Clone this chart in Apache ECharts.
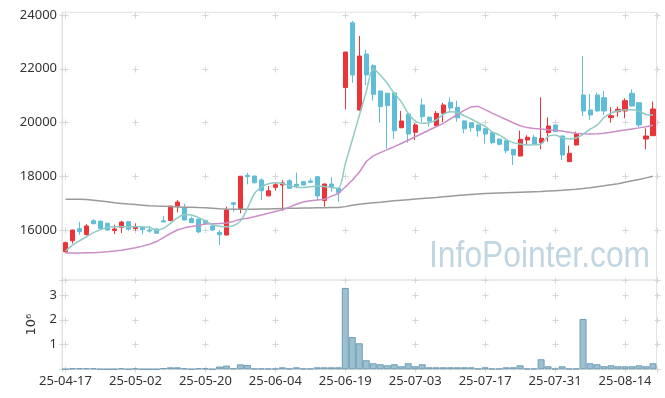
<!DOCTYPE html>
<html>
<head>
<meta charset="utf-8">
<script src="https://cdn.jsdelivr.net/npm/echarts@6/dist/echarts.min.js"></script>
<style>
  html, body { margin: 0; padding: 0; background: #fff; }
  #main { width: 665px; height: 398px; }
</style>
</head>
<body>
<div id="main"></div>
<script>
    // data
    var dates = ['25-04-17','25-04-18','25-04-21','25-04-22','25-04-23','25-04-24','25-04-25','25-04-28','25-04-29','25-04-30',
        '25-05-02','25-05-07','25-05-08','25-05-09','25-05-12','25-05-13','25-05-14','25-05-15','25-05-16','25-05-19',
        '25-05-20','25-05-21','25-05-22','25-05-23','25-05-26','25-05-27','25-05-28','25-05-29','25-05-30','25-06-02',
        '25-06-04','25-06-05','25-06-09','25-06-10','25-06-11','25-06-12','25-06-13','25-06-16','25-06-17','25-06-18',
        '25-06-19','25-06-20','25-06-23','25-06-24','25-06-25','25-06-26','25-06-27','25-06-30','25-07-01','25-07-02',
        '25-07-03','25-07-04','25-07-07','25-07-08','25-07-09','25-07-10','25-07-11','25-07-14','25-07-15','25-07-16',
        '25-07-17','25-07-18','25-07-21','25-07-22','25-07-23','25-07-24','25-07-25','25-07-28','25-07-29','25-07-30',
        '25-07-31','25-08-01','25-08-04','25-08-05','25-08-06','25-08-07','25-08-08','25-08-11','25-08-12','25-08-13',
        '25-08-14','25-08-18','25-08-19','25-08-20','25-08-21'];

    var opens = [15190,15600,16050,15830,16345,16330,16250,15980,16090,16310,
        16050,16110,16000,16040,16345,16350,16893,16840,16420,16405,
        16350,16149,15910,15814,17016,16800,18034,18009,17860,17270,
        17590,17674,17835,17700,17800,17823,17984,17100,17712,17550,
        21300,23710,20465,22549,22114,21172,21086,21100,19806,20316,
        19635,20651,20193,19882,20342,20751,20565,20060,19993,19907,
        19770,19620,19386,19323,19002,18753,19349,19449,19250,19623,
        19907,19498,18542,19163,21023,20465,21023,20923,20179,20402,
        20428,21086,20738,19386,19510];
    var closes = [15530,16000,15940,16150,16235,16060,16000,16040,16297,16030,
        16110,16010,15960,15880,16300,16890,17041,16372,16272,15930,
        16250,16000,15825,16744,16955,18000,17984,17755,17462,17460,
        17686,17749,17550,17637,17674,17774,17265,17712,17589,17388,
        22620,21767,22474,21767,21049,20590,20627,19690,20056,19572,
        19907,20216,20056,20342,20651,20540,20175,19765,19806,19696,
        19572,19250,19188,18951,18791,19374,19449,19200,19412,19870,
        19660,18791,18854,19572,20428,20279,20428,20428,20254,20490,
        20811,20614,19907,19498,20502];
    var lows = [15160,15500,15820,15790,16220,16040,15980,15850,15890,15975,
        15975,15840,15900,15870,16290,16330,16660,16360,16260,15877,
        16240,15960,15442,15790,16680,16620,17700,17740,17116,17250,
        17462,16707,17530,17550,17660,17760,17116,16868,17425,17053,
        20490,21480,20440,21395,20811,19990,19030,19390,19790,19250,
        19349,20010,19844,19870,20010,20402,20030,19598,19660,19472,
        19210,19190,19150,18854,18419,18740,19163,19190,19002,19286,
        19640,18605,18530,19150,20242,20093,20410,20279,19993,20216,
        20156,20600,19821,19002,19500];
    var highs = [15570,16010,16310,16220,16400,16350,16270,16200,16340,16320,
        16250,16130,16150,16050,16520,16900,17116,16967,16495,16420,
        16380,16190,16000,16868,17030,18010,18130,18020,17923,17637,
        17786,17860,17897,18140,17810,17923,18000,17720,17960,17575,
        22640,23777,23219,22698,22165,21180,21100,21110,20428,20330,
        19970,20890,20230,20428,20730,20930,20811,20070,20000,19920,
        19780,19640,19400,19330,19010,19697,19523,19535,20937,20193,
        19920,19510,19138,19660,22474,21060,21110,21172,20565,20590,
        20900,21235,20750,19784,20776];

    var ma5 = [15220,15440,15600,15750,15900,16010,16100,16125,16125,16125,
        16125,16115,16100,15990,16060,16250,16450,16580,16560,16470,
        16330,16200,16140,16120,16160,16330,16800,17350,17600,17720,
        17760,17730,17650,17600,17580,17610,17640,17620,17580,17550,
        18450,19350,20250,21150,22000,21767,21458,21086,20776,20342,
        20056,19970,19993,20093,20300,20400,20380,20250,20130,19990,
        19860,19650,19540,19370,19250,19200,19163,19170,19200,19480,
        19535,19430,19390,19420,19560,19750,19900,20180,20350,20430,
        20465,20470,20420,20300,20280];
    var ma20 = [15140,15140,15145,15150,15155,15170,15190,15220,15250,15290,
        15340,15400,15470,15570,15720,15870,16000,16080,16130,16170,
        16220,16235,16245,16260,16320,16400,16440,16490,16560,16620,
        16690,16750,16850,16960,17040,17090,17120,17140,17250,17360,
        17600,17850,18150,18550,18760,18880,18990,19100,19220,19340,
        19470,19590,19720,19840,19970,20130,20290,20450,20580,20600,
        20480,20350,20230,20110,19990,19880,19810,19775,19755,19730,
        19710,19680,19640,19600,19580,19575,19580,19600,19640,19680,
        19720,19760,19800,19840,19900];
    var ma60 = [17140,17140,17140,17135,17110,17080,17050,17015,16990,16965,
        16945,16925,16905,16890,16880,16870,16860,16850,16845,16835,
        16830,16810,16790,16780,16775,16775,16775,16775,16780,16785,
        16795,16800,16805,16810,16815,16820,16825,16830,16835,16840,
        16870,16920,16960,16990,17010,17030,17060,17090,17110,17130,
        17150,17170,17190,17210,17235,17260,17280,17300,17320,17340,
        17355,17365,17375,17385,17395,17405,17415,17425,17435,17450,
        17465,17480,17500,17520,17545,17575,17610,17645,17685,17725,
        17780,17830,17880,17940,18000];

    var volumes = [8000,40000,40000,40000,40000,8000,8000,8000,40000,8000,
        40000,8000,8000,8000,50000,80000,80000,40000,8000,40000,
        40000,8000,110000,150000,40000,200000,175000,30000,30000,30000,
        30000,80000,30000,80000,30000,30000,80000,80000,80000,80000,
        3280000,1300000,1050000,365000,243000,203000,162000,203000,122000,243000,
        122000,203000,81000,81000,81000,81000,81000,81000,81000,27000,
        81000,27000,27000,81000,81000,162000,27000,27000,405000,122000,
        27000,122000,27000,27000,2030000,243000,203000,122000,162000,122000,
        122000,122000,162000,122000,243000];

    var priceTicks = [16000, 18000, 20000, 22000, 24000];
    var volTicks = [0, 1000000, 2000000, 3000000, 3600000];

    var chartDom = document.getElementById('main');
    var myChart = echarts.init(chartDom);

    var labelIdx = [];
    dates.forEach(function (d, i) { if (i % 10 === 0) labelIdx.push(i); });

    var font = 'Noto Sans';
    var textColor = '#333';
    var edge = '#e3e3e3';
    var crossColor = '#d6d6d6';

    // small "+" marks where the tick rows and columns meet
    function crossSeries(idx, rows) {
        return {
            type: 'custom',
            xAxisIndex: idx,
            yAxisIndex: idx,
            silent: true,
            clip: false,
            z: 1,
            data: rows.map(function (v) { return [0, v]; }),
            renderItem: function (params, api) {
                var cs = params.coordSys;
                var v = api.value(1);
                var y = Math.round(api.coord([0, v])[1]) + 0.5;
                var xs = [cs.x, cs.x + cs.width];
                labelIdx.forEach(function (c) { xs.push(api.coord([c, v])[0]); });
                var kids = [];
                xs.forEach(function (x) {
                    x = Math.round(x) + 0.5;
                    kids.push({ type: 'line', shape: { x1: x - 3, y1: y, x2: x + 3, y2: y }, style: { stroke: crossColor, lineWidth: 1 } });
                    kids.push({ type: 'line', shape: { x1: x, y1: y - 3, x2: x, y2: y + 3 }, style: { stroke: crossColor, lineWidth: 1 } });
                });
                return { type: 'group', children: kids };
            }
        };
    }

    var option = {
        animation: false,
        backgroundColor: '#fff',
        graphic: [{
            type: 'text',
            left: 429,
            top: 238,
            scaleX: 0.86,
            z: 0,
            style: {
                text: 'InfoPointer.com',
                font: '37px "Liberation Sans", Arial, sans-serif',
                fill: '#c2d6e2'
            }
        }],
        grid: [
            { left: 62, right: 8.5, top: 12.3, height: 267.7, show: true, borderColor: edge, borderWidth: 1 },
            { left: 62, right: 8.5, top: 280, height: 89.3, show: true, borderColor: edge, borderWidth: 1 }
        ],
        xAxis: [
            {
                type: 'category', gridIndex: 0, data: dates, boundaryGap: true,
                axisLine: { show: false }, axisTick: { show: false }, axisLabel: { show: false },
                splitLine: { show: false }
            },
            {
                type: 'category', gridIndex: 1, data: dates, boundaryGap: true,
                axisLine: { show: true, lineStyle: { color: edge } },
                axisTick: { show: false },
                axisLabel: { interval: 9, margin: 5, fontSize: 13, fontFamily: font, color: textColor },
                splitLine: { show: false }
            }
        ],
        yAxis: [
            {
                type: 'value', gridIndex: 0, min: 14140, max: 24100, splitNumber: 5,
                axisLine: { show: true, lineStyle: { color: edge } },
                axisTick: { show: false },
                splitLine: { show: false },
                axisLabel: {
                    margin: 5, fontSize: 13, fontFamily: font, color: textColor,
                    showMinLabel: false, showMaxLabel: false,
                    formatter: function (v) { return String(v); }
                }
            },
            {
                type: 'value', gridIndex: 1, min: 0, max: 3600000, interval: 1000000,
                name: '10\u2076', nameLocation: 'middle', nameRotate: 90, nameGap: 24,
                nameTextStyle: { fontSize: 13, fontFamily: 'DejaVu Sans', color: textColor },
                axisLine: { show: true, lineStyle: { color: edge } },
                axisTick: { show: false },
                splitLine: { show: false },
                axisLabel: {
                    margin: 5, fontSize: 13, fontFamily: font, color: textColor,
                    showMinLabel: false, showMaxLabel: false,
                    formatter: function (v) { return String(v / 1000000); }
                }
            }
        ],
        series: [
            crossSeries(0, priceTicks),
            crossSeries(1, volTicks),
            {
                name: 'price', type: 'candlestick', xAxisIndex: 0, yAxisIndex: 0,
                barWidth: 4.6,
                data: dates.map(function (d, i) { return [opens[i], closes[i], lows[i], highs[i]]; }),
                itemStyle: {
                    color: '#ea3439', color0: '#60bdd7',
                    borderColor: '#ea3439', borderColor0: '#60bdd7', borderWidth: 1
                },
                z: 2
            },
            {
                name: 'MA60', type: 'line', xAxisIndex: 0, yAxisIndex: 0, data: ma60,
                symbol: 'none', lineStyle: { color: '#9a9a9a', width: 1.5 }, z: 3
            },
            {
                name: 'MA20', type: 'line', xAxisIndex: 0, yAxisIndex: 0, data: ma20,
                symbol: 'none', lineStyle: { color: '#cc8ec8', width: 1.5 }, z: 3
            },
            {
                name: 'MA5', type: 'line', xAxisIndex: 0, yAxisIndex: 0, data: ma5,
                symbol: 'none', smooth: 0.3, lineStyle: { color: '#90cbc3', width: 1.5 }, z: 3
            },
            {
                name: 'volume', type: 'bar', xAxisIndex: 1, yAxisIndex: 1, data: volumes,
                barWidth: '100%',
                itemStyle: { color: '#9dc0d1', borderColor: '#6d9db4', borderWidth: 1 },
                z: 2
            }
        ]
    };

    myChart.setOption(option);
</script>
</body>
</html>
